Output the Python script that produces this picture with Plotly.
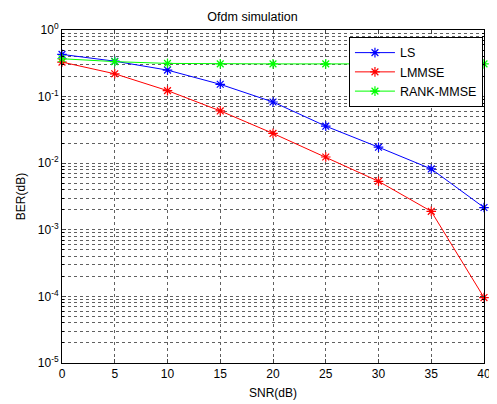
import plotly.graph_objects as go

snr = [0, 5, 10, 15, 20, 25, 30, 35, 40]
ber_ls = [0.43, 0.34, 0.25, 0.153, 0.083, 0.036, 0.0174, 0.0082, 0.00216]
ber_lmmse = [0.33, 0.22, 0.123, 0.061, 0.028, 0.0124, 0.00535, 0.00189, 0.000096]
ber_rank = [0.37, 0.335, 0.315, 0.31, 0.31, 0.31, 0.31, 0.31, 0.31]
names = ["LS", "LMMSE", "RANK-MMSE"]
colors = ["#0000ff", "#ff0000", "#00ff00"]
ytick_vals = [1, 0.1, 0.01, 0.001, 1e-4, 1e-5]
ytick_text = ["10<sup>0</sup>", "10<sup>-1</sup>", "10<sup>-2</sup>", "10<sup>-3</sup>",
              "10<sup>-4</sup>", "10<sup>-5</sup>"]
xtick_vals = [0, 5, 10, 15, 20, 25, 30, 35, 40]
minor_vals = [m * 10.0 ** e for e in range(-5, 0) for m in range(2, 10)]

fig = go.Figure()
for name, ys, c in zip(names, [ber_ls, ber_lmmse, ber_rank], colors):
    fig.add_trace(go.Scatter(
        x=snr, y=ys, name=name, mode="lines+markers",
        line=dict(color=c, width=1),
        marker=dict(symbol="asterisk-open", size=8, color=c, line=dict(color=c, width=1.2)),
        cliponaxis=False,
    ))

font = dict(family="Liberation Sans, Arial, sans-serif", size=12, color="black")
fig.update_layout(
    width=489, height=396,
    margin=dict(l=54, r=6, t=22, b=35),
    paper_bgcolor="white", plot_bgcolor="white",
    font=font,
    title=dict(text="Ofdm simulation", x=0.5, xanchor="center", y=0.978, yanchor="middle",
               font=dict(size=12.5)),
    showlegend=True,
    legend=dict(x=0.68, y=0.979, xanchor="left", yanchor="top",
                bgcolor="white", bordercolor="black", borderwidth=1,
                font=dict(size=12.5), tracegroupgap=0, itemwidth=40),
)
grid_col = "#606060"
fig.update_xaxes(
    range=[0, 40], tickvals=xtick_vals, ticks="inside", ticklen=4,
    showline=True, mirror="ticks", linecolor="black", linewidth=1,
    showgrid=True, gridcolor=grid_col, griddash="dot", gridwidth=1,
    zeroline=False, ticklabeloverflow="allow",
    title=dict(text="SNR(dB)", standoff=8, font=dict(size=12)),
)
fig.update_yaxes(
    type="log", range=[-5, 0], tickvals=ytick_vals, ticktext=ytick_text,
    ticks="inside", ticklen=4,
    showline=True, mirror="ticks", linecolor="black", linewidth=1,
    showgrid=True, gridcolor=grid_col, griddash="dot", gridwidth=1,
    minor=dict(tickvals=minor_vals, showgrid=True, gridcolor=grid_col, griddash="dot",
               ticks="inside", ticklen=2, tickcolor="black"),
    zeroline=False, ticklabeloverflow="allow",
    title=dict(text="BER(dB)", standoff=9, font=dict(size=12)),
)
fig.write_html("out.html")
